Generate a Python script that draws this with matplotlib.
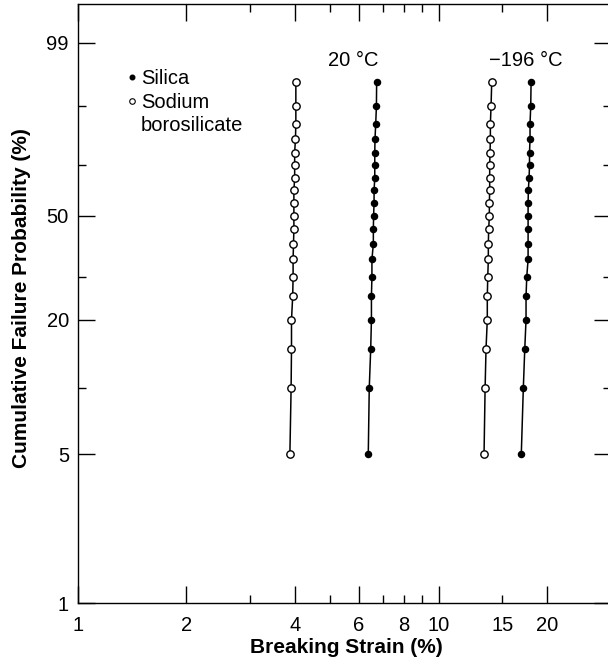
import numpy as np
import matplotlib
matplotlib.use("Agg")
import matplotlib.pyplot as plt
from matplotlib.lines import Line2D
from matplotlib.ticker import FixedLocator, FixedFormatter, NullFormatter

plt.rcParams['font.family'] = ['Liberation Sans', 'DejaVu Sans']

# cumulative failure probability (%) of the 19 ranked fibres in each batch
failProb = [5, 10, 15, 20, 25, 30, 35, 40, 45, 50, 55, 60, 65, 70, 75, 80, 85, 90, 95]

# breaking strain (%) for each rank, lowest first
sodium20 = [3.87, 3.90, 3.91, 3.91, 3.94, 3.95, 3.95, 3.96, 3.97, 3.97,
            3.97, 3.97, 3.99, 3.99, 3.99, 4.01, 4.02, 4.02, 4.02]
silica20 = [6.38, 6.42, 6.48, 6.51, 6.51, 6.53, 6.53, 6.59, 6.59, 6.60,
            6.62, 6.62, 6.65, 6.65, 6.65, 6.66, 6.69, 6.72, 6.73]
sodium196 = [13.35, 13.44, 13.52, 13.63, 13.63, 13.67, 13.72, 13.72, 13.75, 13.81,
             13.81, 13.84, 13.84, 13.84, 13.87, 13.90, 13.90, 13.96, 14.02]
silica196 = [16.93, 17.15, 17.31, 17.45, 17.45, 17.53, 17.68, 17.68, 17.68, 17.68,
             17.68, 17.71, 17.79, 17.84, 17.84, 17.90, 17.90, 17.98, 18.02]

xMajor = [1, 2, 4, 6, 10, 20]
xMinor = [3, 5, 7, 8, 9, 15]
xMinorLabels = ['', '', '', '8', '', '15']
yMajor = [1, 5, 20, 50, 99]
yMinor = [10, 30, 70, 90]

FS = 14.5


# Weibull probability paper: ln(-ln(1-F))
def weibull(p):
    p = np.clip(np.asarray(p, dtype=float), 1e-6, 100 - 1e-6)
    return np.log(-np.log(1 - p / 100))


def weibullInv(w):
    return 100 * (1 - np.exp(-np.exp(w)))


fig = plt.figure(figsize=(6.08, 6.67), dpi=100)
ax = fig.add_axes([77.7 / 608, 63.7 / 667, 533.3 / 608, 599.3 / 667])
ax.set_xscale('log')
ax.set_yscale('function', functions=(weibull, weibullInv))

openStyle = dict(color='black', lw=1.1, marker='o', ms=5.3, mfc='white', mec='black', mew=1.0)
fillStyle = dict(color='black', lw=1.1, marker='o', ms=4.4, mfc='black', mec='black')

ax.plot(sodium20, failProb, **openStyle)
ax.plot(silica20, failProb, **fillStyle)
ax.plot(sodium196, failProb, **openStyle)
ax.plot(silica196, failProb, **fillStyle)

ax.set_xlim(1, 30)
ax.set_ylim(1, 99.9115)

ax.xaxis.set_major_locator(FixedLocator(xMajor))
ax.xaxis.set_major_formatter(FixedFormatter([str(v) for v in xMajor]))
ax.xaxis.set_minor_locator(FixedLocator(xMinor))
ax.xaxis.set_minor_formatter(FixedFormatter(xMinorLabels))
ax.yaxis.set_major_locator(FixedLocator(yMajor))
ax.yaxis.set_major_formatter(FixedFormatter([str(v) for v in yMajor]))
ax.yaxis.set_minor_locator(FixedLocator(yMinor))
ax.yaxis.set_minor_formatter(NullFormatter())

ax.tick_params(which='both', direction='in', top=True, right=True, width=1.0, labelsize=FS)
ax.tick_params(which='major', length=12)
ax.tick_params(which='minor', length=6)
ax.tick_params(axis='x', which='both', pad=9)
ax.tick_params(axis='y', which='both', pad=6.3)
for s in ax.spines.values():
    s.set_linewidth(1.0)

ax.set_xlabel('Breaking Strain (%)', fontsize=15, fontweight='bold')
ax.set_ylabel('Cumulative Failure Probability (%)', fontsize=15, fontweight='bold')
ax.xaxis.set_label_coords(0.503, -0.058)
ax.yaxis.set_label_coords(-0.0876, 0.51)

# temperature headings above each pair of curves
ax.text(5.78, 0.8966, '20 °C', transform=ax.get_xaxis_transform(),
        ha='center', va='baseline', fontsize=FS)
ax.text(17.39, 0.8966, '\u2212196 °C', transform=ax.get_xaxis_transform(),
        ha='center', va='baseline', fontsize=FS)

handles = [Line2D([], [], ls='', marker='o', ms=3.3, mfc='black', mec='black'),
           Line2D([], [], ls='', marker='o', ms=4.0, mfc='white', mec='black', mew=0.8),
           Line2D([], [], ls='', marker='')]
ax.legend(handles, ['Silica', 'Sodium', 'borosilicate'], loc='upper left',
          bbox_to_anchor=(0.0938, 0.8916), frameon=False, fontsize=FS,
          handlelength=0.4, handletextpad=0.25, labelspacing=0.23,
          borderpad=0, borderaxespad=0)

fig.savefig('out.png', dpi=100)
